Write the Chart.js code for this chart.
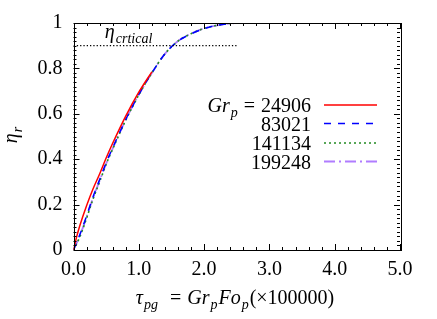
<!DOCTYPE html>
<html><head><meta charset="utf-8">
<script src="https://cdn.jsdelivr.net/npm/chart.js@4/dist/chart.umd.min.js"></script>
<style>html,body{margin:0;padding:0;background:#fff}#wrap{width:437px;height:319px}</style>
</head><body><div id="wrap"><canvas id="c" width="437" height="319"></canvas></div>
<script>
// ---- data ----
const seriesLabels = ["24906", "83021", "141134", "199248"];
const xRed    = [0, 0.05, 0.1, 0.2, 0.3, 0.4, 0.5, 0.6, 0.8, 1.0, 1.2];
const yRed    = [0, 0.06, 0.11, 0.195, 0.27, 0.335, 0.405, 0.47, 0.59, 0.695, 0.785];
const xBlue   = [0, 0.1, 0.2, 0.3, 0.4, 0.5, 0.6, 0.8, 1.0, 1.2, 1.4, 1.6, 1.8, 2.0, 2.2, 2.4, 2.5];
const yBlue   = [0, 0.07, 0.15, 0.235, 0.31, 0.385, 0.45, 0.575, 0.685, 0.78, 0.864, 0.92, 0.952, 0.975, 0.99, 0.998, 1.0];
const xGreen  = [0, 0.1, 0.2, 0.3, 0.4, 0.5, 0.6, 0.8, 1.0, 1.2, 1.4, 1.6, 1.8, 2.0, 2.2, 2.4, 2.5];
const yGreen  = [0, 0.06, 0.14, 0.225, 0.30, 0.378, 0.445, 0.572, 0.683, 0.78, 0.864, 0.92, 0.953, 0.976, 0.99, 0.998, 1.0];
const xPurple = [0, 0.1, 0.2, 0.3, 0.4, 0.5, 0.6, 0.8, 1.0, 1.2, 1.4, 1.6, 1.8, 2.0, 2.2, 2.4, 2.5];
const yPurple = [0, 0.065, 0.145, 0.23, 0.305, 0.38, 0.447, 0.574, 0.685, 0.78, 0.864, 0.921, 0.953, 0.976, 0.99, 0.998, 1.0];
const critX = [0, 2.5];
const critY = [0.9, 0.9];
const xTicks = [0, 1, 2, 3, 4, 5];
const xTickLabels = ["0.0", "1.0", "2.0", "3.0", "4.0", "5.0"];
const yTicks = [0, 0.2, 0.4, 0.6, 0.8, 1];
const yTickLabels = ["0", "0.2", "0.4", "0.6", "0.8", "1"];

const pts = (xs, ys) => xs.map((x, i) => ({x, y: ys[i]}));
const FONT = '"Liberation Serif", "DejaVu Serif", serif';
const FS = 20;

const colors = ["#ff0000", "#0000ff", "#228b22", "#b07cff"];
const dashes = [[], [7, 7], [2, 3], [11, 4, 2, 4]];
const widths = [1.5, 1.5, 1.6, 1.8];
const seriesData = [pts(xRed, yRed), pts(xBlue, yBlue), pts(xGreen, yGreen), pts(xPurple, yPurple)];

// rich text helper: runs of {t, i(italic), sub, g(gap after)}
function richWidth(ctx, runs, fs) {
  let w = 0;
  for (const r of runs) {
    const s = r.sub ? fs * 0.7 : fs;
    ctx.font = (r.i ? 'italic ' : '') + s + 'px ' + FONT;
    w += ctx.measureText(r.t).width + (r.g || 0);
  }
  return w;
}
function drawRich(ctx, runs, x, y, fs, align) {
  const w = richWidth(ctx, runs, fs);
  let cx = align === 'right' ? x - w : align === 'center' ? x - w / 2 : x;
  ctx.textBaseline = 'alphabetic';
  ctx.textAlign = 'left';
  for (const r of runs) {
    const s = r.sub ? fs * 0.7 : fs;
    ctx.font = (r.i ? 'italic ' : '') + s + 'px ' + FONT;
    ctx.fillText(r.t, cx, y + (r.sub ? fs * 0.25 : 0));
    cx += ctx.measureText(r.t).width + (r.g || 0);
  }
}

const decor = {
  id: 'decor',
  afterDatasetsDraw(chart) {
    const ctx = chart.ctx, xs = chart.scales.x, ys = chart.scales.y, a = chart.chartArea;
    ctx.save();
    ctx.strokeStyle = '#000';
    ctx.lineWidth = 1;
    ctx.setLineDash([]);
    // frame
    ctx.strokeRect(Math.round(a.left) + 0.5, Math.round(a.top) + 0.5, Math.round(a.right - a.left), Math.round(a.bottom - a.top));
    ctx.beginPath();
    for (let k = 0; k <= 25; k++) {
      const v = k * 0.2;
      const px = Math.round(xs.getPixelForValue(v)) + 0.5;
      const L = (k % 5 === 0) ? 6 : 3;
      ctx.moveTo(px, a.bottom); ctx.lineTo(px, a.bottom - L);
      ctx.moveTo(px, a.top); ctx.lineTo(px, a.top + L);
    }
    for (let k = 0; k <= 50; k++) {
      const v = k * 0.02;
      const py = Math.round(ys.getPixelForValue(v)) + 0.5;
      const L = (k % 10 === 0) ? 6 : 3;
      ctx.moveTo(a.left, py); ctx.lineTo(a.left + L, py);
      ctx.moveTo(a.right, py); ctx.lineTo(a.right - L, py);
    }
    ctx.stroke();

    ctx.fillStyle = '#000';
    drawRich(ctx, [{t: 'η', i: true, g: 1}, {t: 'crtical', i: true, sub: true}],
      xs.getPixelForValue(0.48), ys.getPixelForValue(0.935), FS, 'left');

    // legend
    const rowY = [105, 123.5, 143, 161.5];
    const textRight = 311, lx0 = 324, lx1 = 377;
    for (let i = 0; i < seriesLabels.length; i++) {
      const runs = i === 0
        ? [{t: 'Gr', i: true, g: 1}, {t: 'p', i: true, sub: true, g: 6}, {t: '=', g: 6}, {t: seriesLabels[i], g: 0}]
        : [{t: seriesLabels[i]}];
      ctx.fillStyle = '#000';
      drawRich(ctx, runs, textRight, rowY[i] + 7, FS, 'right');
      ctx.strokeStyle = colors[i];
      ctx.lineWidth = widths[i];
      ctx.setLineDash(dashes[i]);
      ctx.beginPath();
      ctx.moveTo(lx0, rowY[i]); ctx.lineTo(lx1, rowY[i]);
      ctx.stroke();
    }
    ctx.setLineDash([]);
    ctx.fillStyle = '#000';
    // x title
    drawRich(ctx, [{t: 'τ', i: true, g: 1}, {t: 'pg', i: true, sub: true, g: 12}, {t: '=', g: 6}, {t: 'Gr', i: true, g: 1}, {t: 'p', i: true, sub: true, g: 1},
      {t: 'Fo', i: true, g: 1}, {t: 'p', i: true, sub: true, g: 1}, {t: '(×100000)'}], 235, 304, FS, 'center');
    // y title
    ctx.save();
    ctx.translate(17, 135);
    ctx.rotate(-Math.PI / 2);
    drawRich(ctx, [{t: 'η', i: true, g: 1}, {t: 'r', i: true, sub: true}], 0, 0, FS, 'center');
    ctx.restore();
    ctx.restore();
  }
};

const datasets = seriesData.map((d, i) => ({
  label: seriesLabels[i], data: d, showLine: true, borderColor: colors[i], backgroundColor: colors[i],
  borderWidth: widths[i], borderDash: dashes[i], pointRadius: 0, cubicInterpolationMode: 'monotone', fill: false
}));
datasets.unshift({label: 'critical', data: pts(critX, critY), showLine: true, borderColor: '#000',
  borderWidth: 1.3, borderDash: [1.3, 2], pointRadius: 0, fill: false});

new Chart(document.getElementById('c'), {
  type: 'scatter',
  data: {datasets},
  options: {
    responsive: false, animation: false, devicePixelRatio: 1,
    layout: {padding: {left: 0, right: 37, top: 20, bottom: 0}},
    plugins: {legend: {display: false}, tooltip: {enabled: false}},
    scales: {
      x: {
        type: 'linear', min: 0, max: 5,
        afterBuildTicks: s => { s.ticks = xTicks.map(v => ({value: v})); },
        afterFit: s => { s.height = 69; },
        grid: {display: false, drawTicks: false},
        border: {display: false},
        ticks: {padding: 8, color: '#000', font: {family: FONT, size: FS},
          callback: (v) => xTickLabels[xTicks.indexOf(v)]}
      },
      y: {
        type: 'linear', min: 0, max: 1,
        afterBuildTicks: s => { s.ticks = yTicks.map(v => ({value: v})); },
        afterFit: s => { s.width = 73.5; },
        grid: {display: false, drawTicks: false},
        border: {display: false},
        ticks: {padding: 11, color: '#000', font: {family: FONT, size: FS},
          callback: (v) => { const i = yTicks.findIndex(t => Math.abs(t - v) < 1e-9); return i >= 0 ? yTickLabels[i] : ''; }}
      }
    }
  },
  plugins: [decor]
});
</script></body></html>
